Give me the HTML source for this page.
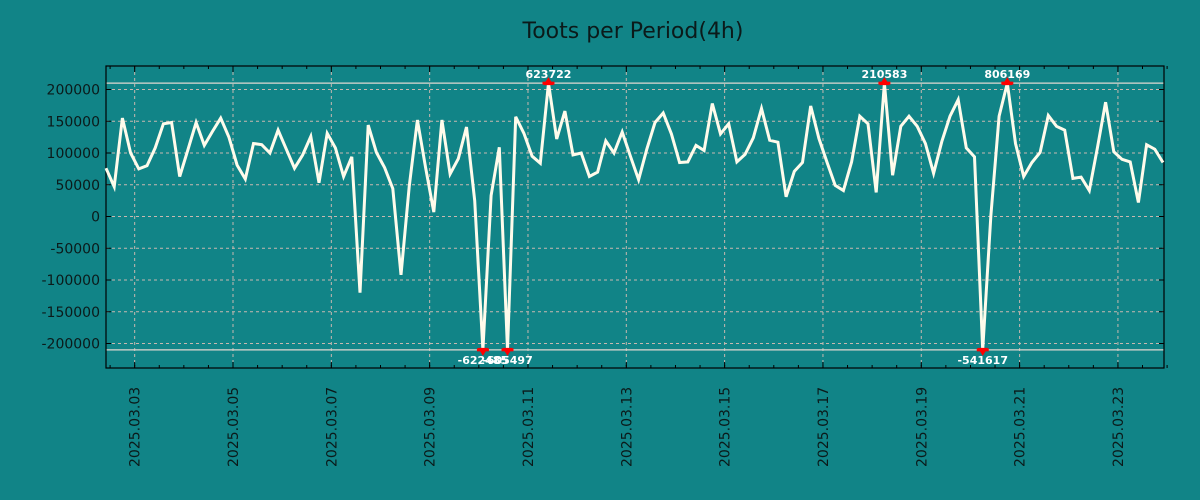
<!DOCTYPE html>
<html><head><meta charset="utf-8"><style>
html,body{margin:0;padding:0;background:#118487;}
svg{display:block;font-family:"DejaVu Sans","Liberation Sans",sans-serif;}
</style></head><body>
<svg id="chart" width="1200" height="500" xmlns="http://www.w3.org/2000/svg">
<rect x="0" y="0" width="1200" height="500" fill="#118487"/>
<text x="633" y="38" font-size="22" text-anchor="middle" fill="#0b1a1a">Toots per Period(4h)</text>
<g id="grid"></g>
<g id="axes"></g>
<g id="series"></g>
<g id="annots"></g>
</svg>
<script>
const values = [76000,47000,155000,100000,75000,80000,108000,146000,148000,63000,105000,148000,112000,134000,155000,125000,81000,59000,115000,113000,100000,136000,106000,76000,97000,126000,53000,131000,108000,63000,94000,-120000,144000,101000,77000,44000,-92000,47000,152000,77000,7000,152000,67000,91000,141000,25000,-622485,33000,109000,-605497,157000,131000,95000,84000,623722,122000,166000,97000,100000,63000,70000,119000,100000,133000,95000,58000,106000,148000,163000,130000,85000,86000,112000,104000,178000,130000,146000,86000,98000,124000,170000,120000,117000,31000,71000,85000,174000,123000,85000,49000,41000,86000,158000,146000,38000,210583,65000,142000,158000,142000,115000,68000,118000,158000,184000,108000,94000,-541617,2000,158000,806169,115000,63000,85000,101000,159000,142000,136000,60000,62000,41000,108000,180000,102000,90000,86000,22000,113000,106000,85000];
const yTicks = [200000,150000,100000,50000,0,-50000,-100000,-150000,-200000];
const dateLabels = ["2025.03.03","2025.03.05","2025.03.07","2025.03.09","2025.03.11","2025.03.13","2025.03.15","2025.03.17","2025.03.19","2025.03.21","2025.03.23"];
const firstLabelIndex = 3.5;
const periodsPerLabel = 12;
const clipValue = 210000;

const NS="http://www.w3.org/2000/svg";
const L=106,R=1164,T=66,B=368;
const N=values.length;
const xs=i=>L+(i*(1163-L))/(N-1);
const ys=v=>216.5-v*0.000635;
function mk(tag,attrs,parent){const e=document.createElementNS(NS,tag);for(const k in attrs)e.setAttribute(k,attrs[k]);parent.appendChild(e);return e;}
const grid=document.getElementById('grid'),axes=document.getElementById('axes'),series=document.getElementById('series'),ann=document.getElementById('annots');

// y ticks & grid
yTicks.forEach(v=>{
  const y=ys(v);
  const g=mk('line',{x1:L,x2:R,y1:y,y2:y,stroke:'#c8b8b0','stroke-width':1,'stroke-dasharray':'3,3'},grid);
  
  
  mk('line',{x1:L,x2:L+5,y1:y,y2:y,stroke:'#000'},axes);
  mk('line',{x1:R,x2:R-5,y1:y,y2:y,stroke:'#000'},axes);
  const t=mk('text',{x:L-6,y:y+5,'text-anchor':'end','font-size':14,fill:'#0b1a1a'},axes);
  t.textContent=String(v);
  
  
});
// minor x ticks
for(let i=firstLabelIndex%3;i<N;i+=3){
  const x=xs(i);
  mk('line',{x1:x,x2:x,y1:B,y2:B-3,stroke:'#000'},axes);
  mk('line',{x1:x,x2:x,y1:T,y2:T+3,stroke:'#000'},axes);
}
// x labels
dateLabels.forEach((d,k)=>{
  const x=xs(firstLabelIndex+k*periodsPerLabel);
  const g=mk('line',{x1:x,x2:x,y1:T,y2:B,stroke:'#c8b8b0','stroke-width':1,'stroke-dasharray':'3,3'},grid);
  
  
  mk('line',{x1:x,x2:x,y1:B,y2:B-6,stroke:'#000'},axes);
  mk('line',{x1:x,x2:x,y1:T,y2:T+6,stroke:'#000'},axes);
  const t=mk('text',{x:0,y:0,transform:`translate(${x+5},${B+99}) rotate(-90)`,'font-size':14,fill:'#0b1a1a'},axes);
  t.textContent=d;
  
  
});
// clip lines
[clipValue,-clipValue].forEach(v=>{
  const l=mk('line',{x1:L,x2:R,y1:ys(v),y2:ys(v),stroke:'#e0d8d0','stroke-width':1.2},grid);
  
  
});
const frame=mk('rect',{x:L,y:T,width:R-L,height:B-T,fill:'none',stroke:'#000','stroke-width':1.2},axes);



// series
const pts=values.map((v,i)=>xs(i).toFixed(1)+','+ys(Math.max(-clipValue,Math.min(clipValue,v))).toFixed(1)).join(' ');
const pl=mk('polyline',{points:pts,fill:'none',stroke:'#fffbeb','stroke-width':3,'stroke-linejoin':'miter'},series);



// annotations for clipped points
values.forEach((v,i)=>{
  if(Math.abs(v)<=clipValue-1000 && v<clipValue) { if(v<clipValue-1000) return; }
  if(Math.abs(v)<clipValue*0.999) return;
  const x=xs(i),top=v>0,y=ys(top?clipValue:-clipValue);
  const m=mk('path',{d:top?`M${x-5},${y+2}L${x},${y-6}L${x+5},${y+2}Z`:`M${x-5},${y-2}L${x},${y+6}L${x+5},${y-2}Z`,fill:'#f00'},ann);
  
  
  mk('rect',{x:x-6,y:y-1.5,width:12,height:3,fill:'#f00'},ann);
  const t=mk('text',{x:x,y:top?y-5:y+14,'text-anchor':'middle','font-size':11,'font-weight':'bold',fill:'#fff'},ann);
  t.textContent=String(v);
  
  
});
</script>
</body></html>
